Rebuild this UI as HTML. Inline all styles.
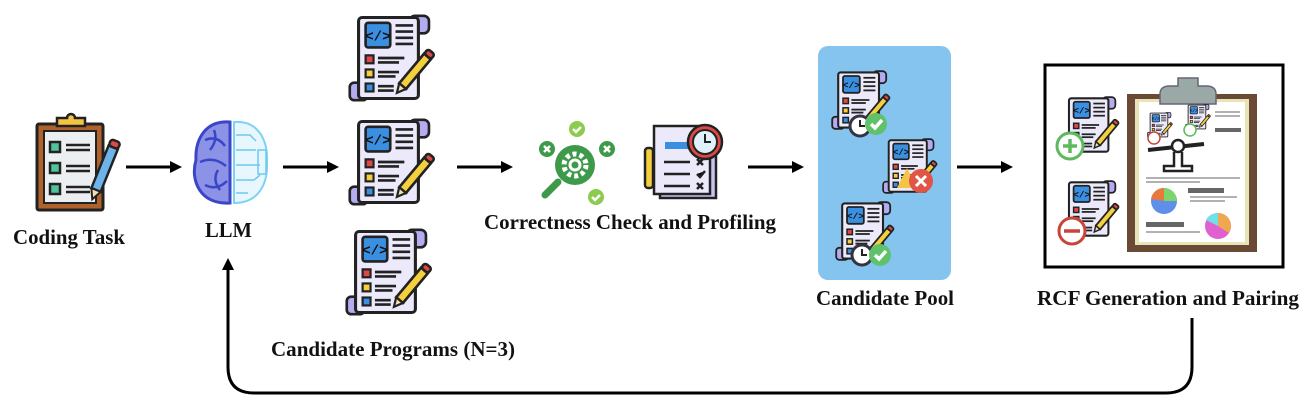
<!DOCTYPE html>
<html><head><meta charset="utf-8"><style>
html,body{margin:0;padding:0;background:#fff;}
svg{display:block;}
text{font-family:"Liberation Serif",serif;font-weight:bold;fill:#111;}
</style></head><body>
<svg width="1316" height="409" viewBox="0 0 1316 409" xmlns="http://www.w3.org/2000/svg">
<defs>
<marker id="ah" markerWidth="12" markerHeight="12" refX="8" refY="6" orient="auto" markerUnits="userSpaceOnUse">
<path d="M0,0 L12,6 L0,12 z" fill="#000"/></marker>
<g id="doc">
<rect x="2" y="78" width="20" height="20" rx="5" fill="#b3acf0" stroke="#222" stroke-width="3"/>
<rect x="70" y="2" width="22" height="20" rx="6" fill="#b3acf0" stroke="#222" stroke-width="3"/>
<rect x="12" y="4" width="68" height="92" rx="4" fill="#ece9fb" stroke="#222" stroke-width="3.5"/>
<rect x="20" y="10" width="28" height="28" rx="3" fill="#3a8fe0" stroke="#222" stroke-width="3"/>
<text x="34" y="30" font-size="16" text-anchor="middle" style="font-family:'Liberation Mono',monospace;fill:#111">&lt;/&gt;</text>
<g stroke="#222" stroke-width="3"><line x1="54" y1="13" x2="74" y2="13"/><line x1="54" y1="20" x2="74" y2="20"/><line x1="54" y1="27" x2="74" y2="27"/><line x1="54" y1="34" x2="74" y2="34"/>
<line x1="34" y1="50" x2="64" y2="50"/><line x1="34" y1="55" x2="58" y2="55"/><line x1="34" y1="66" x2="58" y2="66"/><line x1="34" y1="71" x2="54" y2="71"/><line x1="34" y1="82" x2="52" y2="82"/><line x1="34" y1="87" x2="52" y2="87"/></g>
<rect x="20" y="47" width="9" height="9" fill="#e04848" stroke="#222" stroke-width="2.5"/>
<rect x="20" y="63" width="9" height="9" fill="#f4d03f" stroke="#222" stroke-width="2.5"/>
<rect x="20" y="79" width="9" height="9" fill="#3a8fe0" stroke="#222" stroke-width="2.5"/>
<g transform="translate(62,82) rotate(-50)">
<rect x="0" y="-5" width="44" height="10" fill="#f4d03f" stroke="#222" stroke-width="3"/>
<rect x="44" y="-5" width="7" height="10" rx="3" fill="#e04848" stroke="#222" stroke-width="3"/>
<path d="M0,-5 L-10,0 L0,5 z" fill="#f5deb3" stroke="#222" stroke-width="2.5"/>
</g>
</g>
<g id="clk"><circle r="10" fill="#fff" stroke="#334" stroke-width="3"/><path d="M0,-6 V0 H5" stroke="#222" stroke-width="2" fill="none"/></g>
<g id="ok"><circle r="11" fill="#5fc26a"/><path d="M-5,0 L-1,4 L6,-4" stroke="#fff" stroke-width="3.5" fill="none"/></g>
</defs>

<!-- Coding task clipboard -->
<rect x="37" y="124" width="66" height="86" rx="2" fill="#b0622c" stroke="#222" stroke-width="3"/>
<rect x="44" y="131" width="52" height="72" fill="#eceff1" stroke="#222" stroke-width="2"/>
<path d="M57,126 v-8 h10 a4,4 0 0 1 8,0 h10 v8 z" fill="#f4c542" stroke="#222" stroke-width="2.5"/>
<g stroke="#222" stroke-width="2.5">
<rect x="50" y="142" width="10" height="10" fill="#4fc39a"/><rect x="50" y="163" width="10" height="10" fill="#4fc39a"/><rect x="50" y="184" width="10" height="10" fill="#4fc39a"/>
<line x1="66" y1="145" x2="90" y2="145"/><line x1="66" y1="150" x2="90" y2="150"/>
<line x1="66" y1="166" x2="90" y2="166"/><line x1="66" y1="171" x2="90" y2="171"/>
<line x1="66" y1="187" x2="90" y2="187"/><line x1="66" y1="192" x2="90" y2="192"/>
</g>
<g transform="translate(96,190) rotate(-68)"><rect x="0" y="-5" width="46" height="10" fill="#6cb4ea" stroke="#222" stroke-width="2.5"/><rect x="46" y="-5" width="7" height="10" rx="3" fill="#e04848" stroke="#222" stroke-width="2.5"/><path d="M0,-5 L-10,0 L0,5z" fill="#f5deb3" stroke="#222" stroke-width="2"/></g>
<text x="13" y="244" font-size="21" textLength="112" lengthAdjust="spacingAndGlyphs">Coding Task</text>

<!-- Brain -->
<path d="M230,122 C205,120 195,140 196,160 C190,180 200,205 230,203 Z" fill="#8c92e6" stroke="#3b45c8" stroke-width="3"/>
<g stroke="#3b45c8" stroke-width="2.5" fill="none"><path d="M205,140 q12,-5 20,6"/><path d="M200,162 q14,-6 26,4"/><path d="M205,185 q12,6 22,-4"/><path d="M214,130 q4,10 -4,20"/><path d="M218,170 q-6,10 2,20"/></g>
<path d="M234,122 C258,120 268,140 267,162 C268,185 258,203 234,203 Z" fill="#e8f7fd" stroke="#7fd3f2" stroke-width="2"/>
<g stroke="#6cc8ee" stroke-width="1.5" fill="none"><path d="M236,135 h14 l6,6"/><path d="M236,150 h20"/><path d="M236,165 h24"/><path d="M236,180 h18 l6,-5"/><path d="M236,193 h12"/><rect x="258" y="150" width="8" height="24"/></g>
<text x="205" y="237" font-size="21" textLength="47" lengthAdjust="spacingAndGlyphs">LLM</text>

<!-- Candidate programs -->
<use href="#doc" transform="translate(348,14) scale(0.88)"/>
<use href="#doc" transform="translate(348,118) scale(0.88)"/>
<use href="#doc" transform="translate(345,228) scale(0.88)"/>
<text x="271" y="356" font-size="21" textLength="244" lengthAdjust="spacingAndGlyphs">Candidate Programs (N=3)</text>

<!-- Correctness -->
<circle cx="577" cy="129" r="8" fill="#8ccb4e"/><path d="M573,129 l3,3 l5,-5" stroke="#fff" stroke-width="2.5" fill="none"/>
<circle cx="547" cy="149" r="8" fill="#3e9a4a"/><path d="M544,146 l6,6 M550,146 l-6,6" stroke="#fff" stroke-width="2.5"/>
<circle cx="607" cy="149" r="8" fill="#3e9a4a"/><path d="M604,146 l6,6 M610,146 l-6,6" stroke="#fff" stroke-width="2.5"/>
<circle cx="596" cy="197" r="8" fill="#8ccb4e"/><path d="M592,197 l3,3 l5,-5" stroke="#fff" stroke-width="2.5" fill="none"/>
<line x1="558" y1="182" x2="545" y2="195" stroke="#3e9a4a" stroke-width="7" stroke-linecap="round"/>
<circle cx="575" cy="165" r="20" fill="#3e9a4a"/>
<circle cx="575" cy="165" r="11" fill="none" stroke="#fff" stroke-width="5" stroke-dasharray="4 3"/>
<circle cx="575" cy="165" r="5" fill="#3e9a4a" stroke="#fff" stroke-width="3"/>
<rect x="645" y="148" width="8" height="40" rx="3" fill="#f4d03f" stroke="#222" stroke-width="2.5"/>
<rect x="660" y="130" width="56" height="68" fill="#c7c4f2" stroke="#222" stroke-width="2.5"/>
<rect x="654" y="126" width="56" height="68" fill="#ece9fb" stroke="#222" stroke-width="2.5"/>
<rect x="665" y="142" width="30" height="7" fill="#3a8fe0"/>
<g stroke="#222" stroke-width="2.5"><line x1="664" y1="162" x2="690" y2="162"/><line x1="664" y1="174" x2="690" y2="174"/><line x1="664" y1="186" x2="690" y2="186"/>
<path d="M697,159 l6,6 M703,159 l-6,6 M697,174 l3,3 l5,-6 M697,183 l6,6 M703,183 l-6,6"/></g>
<circle cx="705" cy="142" r="17" fill="#e04848" stroke="#222" stroke-width="2.5"/>
<circle cx="705" cy="142" r="12" fill="#dff1fb" stroke="#222" stroke-width="2"/>
<path d="M705,134 v8 h6" stroke="#222" stroke-width="2" fill="none"/>
<text x="484" y="229" font-size="21" textLength="292" lengthAdjust="spacingAndGlyphs">Correctness Check and Profiling</text>

<!-- Candidate pool -->
<rect x="818" y="46" width="133" height="234" rx="10" fill="#85c4ef"/>
<use href="#doc" transform="translate(831,70) scale(0.6)"/>
<use href="#clk" transform="translate(860,126)"/><use href="#ok" transform="translate(876,124)"/>
<use href="#doc" transform="translate(882,138) scale(0.56)"/>
<path d="M897,188 l10,-20 l10,20z" fill="#f4c542"/><circle cx="921" cy="181" r="12" fill="#e05545"/><path d="M916,176 l10,10 M926,176 l-10,10" stroke="#fff" stroke-width="3"/>
<use href="#doc" transform="translate(835,201) scale(0.6)"/>
<use href="#clk" transform="translate(862,255)"/><use href="#ok" transform="translate(880,255)"/>
<text x="816" y="305" font-size="21" textLength="138" lengthAdjust="spacingAndGlyphs">Candidate Pool</text>

<!-- RCF box -->
<rect x="1045" y="65" width="238" height="202" fill="#fff" stroke="#000" stroke-width="3"/>
<use href="#doc" transform="translate(1062,96) scale(0.58)"/>
<circle cx="1070" cy="146" r="13" fill="#fff" stroke="#5cba5c" stroke-width="3"/><path d="M1063,146 h14 M1070,139 v14" stroke="#5cba5c" stroke-width="3.5"/>
<use href="#doc" transform="translate(1062,180) scale(0.58)"/>
<circle cx="1072" cy="231" r="13" fill="#fff" stroke="#c8453a" stroke-width="3"/><path d="M1064,231 h16" stroke="#c8453a" stroke-width="3.5"/>
<rect x="1127" y="94" width="130" height="158" fill="#6b4a35"/>
<rect x="1135" y="99" width="114" height="146" fill="#e8e4b8"/>
<rect x="1139" y="102" width="106" height="140" fill="#fff"/>
<path d="M1160,104 v-10 q0,-8 10,-8 h8 v-8 h20 v8 h8 q10,0 10,8 v10 z" fill="#9aa8a6" stroke="#667" stroke-width="1.5"/>
<use href="#doc" transform="translate(1147,112) scale(0.26)"/>
<use href="#doc" transform="translate(1185,104) scale(0.26)"/>
<circle cx="1154" cy="138" r="6" fill="#fff" stroke="#c8453a" stroke-width="1.5"/>
<circle cx="1190" cy="130" r="6" fill="#fff" stroke="#5cba5c" stroke-width="1.5"/>
<path d="M1148,150 l56,-6" stroke="#222" stroke-width="4"/><circle cx="1178" cy="146" r="6" fill="#fff" stroke="#222" stroke-width="2.5"/>
<path d="M1174,152 v14 h-10 v5 h28 v-5 h-10 v-14" fill="none" stroke="#222" stroke-width="2.5"/>
<g stroke="#666" stroke-width="1"><line x1="1215" y1="112" x2="1240" y2="112"/><line x1="1215" y1="116" x2="1240" y2="116"/><line x1="1146" y1="178" x2="1240" y2="178"/><line x1="1146" y1="182" x2="1200" y2="182"/><line x1="1190" y1="197" x2="1237" y2="197"/><line x1="1190" y1="201" x2="1225" y2="201"/><line x1="1146" y1="232" x2="1200" y2="232"/></g>
<rect x="1215" y="128" width="26" height="4" fill="#666"/><rect x="1188" y="188" width="36" height="5" fill="#666"/><rect x="1146" y="222" width="38" height="5" fill="#666"/>
<circle cx="1164" cy="201" r="13" fill="#5f8fe8"/><path d="M1164,201 L1164,188 A13,13 0 0 1 1177,201 z" fill="#7bd66a"/><path d="M1164,201 L1151,199 A13,13 0 0 1 1164,188 z" fill="#e9793a"/>
<circle cx="1218" cy="226" r="13" fill="#e060d0"/><path d="M1218,226 L1218,213 A13,13 0 0 1 1229,233 z" fill="#f0a850"/><path d="M1218,226 L1206,220 A13,13 0 0 1 1218,213 z" fill="#70e0e8"/>
<text x="1037" y="305" font-size="21" textLength="262" lengthAdjust="spacingAndGlyphs">RCF Generation and Pairing</text>

<!-- arrows -->
<g stroke="#000" stroke-width="3" fill="none" marker-end="url(#ah)">
<line x1="126" y1="167" x2="178" y2="167"/>
<line x1="283" y1="167" x2="335" y2="167"/>
<line x1="457" y1="167" x2="509" y2="167"/>
<line x1="748" y1="167" x2="800" y2="167"/>
<line x1="957" y1="167" x2="1009" y2="167"/>
<path d="M1192,318 V367 Q1192,393 1166,393 H254 Q228,393 228,367 V262"/>
</g>
</svg>
</body></html>
